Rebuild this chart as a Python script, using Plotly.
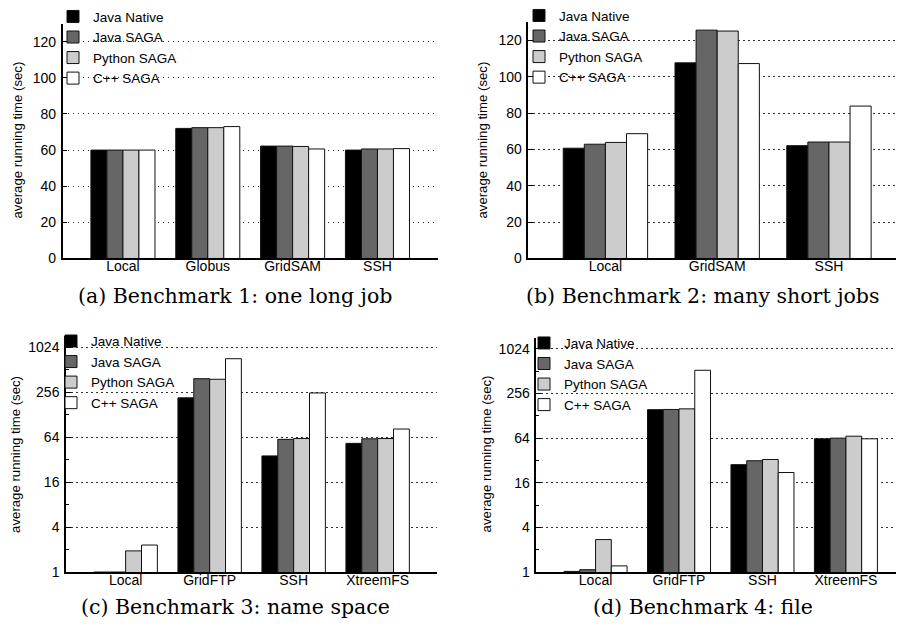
import plotly.graph_objects as go

# ---------------- data ----------------
series_names = ["Java Native", "Java SAGA", "Python SAGA", "C++ SAGA"]
series_colors = ["#000000", "#666666", "#cccccc", "#ffffff"]

cats_a = ["Local", "Globus", "GridSAM", "SSH"]
a_java_native = [60.0, 72.0, 62.2, 60.0]
a_java_saga = [60.0, 72.4, 62.2, 60.6]
a_python_saga = [60.0, 72.4, 62.0, 60.6]
a_cpp_saga = [60.0, 73.0, 60.6, 60.8]

cats_b = ["Local", "GridSAM", "SSH"]
b_java_native = [60.7, 107.7, 62.1]
b_java_saga = [62.9, 125.7, 64.1]
b_python_saga = [63.9, 125.2, 64.1]
b_cpp_saga = [68.7, 107.3, 83.9]

cats_c = ["Local", "GridFTP", "SSH", "XtreemFS"]
c_java_native = [1.0, 216, 36, 53]
c_java_saga = [1.0, 390, 60, 61]
c_python_saga = [1.92, 383, 61.5, 61.5]
c_cpp_saga = [2.3, 722, 251, 82.5]

cats_d = ["Local", "GridFTP", "SSH", "XtreemFS"]
d_java_native = [1.02, 155, 28.1, 62.7]
d_java_saga = [1.075, 156, 31.7, 64]
d_python_saga = [2.74, 159, 33, 68]
d_cpp_saga = [1.21, 527, 22, 62.7]

lin_ticks = [0, 20, 40, 60, 80, 100, 120]
log_ticks = [1, 4, 16, 64, 256, 1024]
log_minor = [2, 8, 32, 128, 512]

captions = ["(a) Benchmark 1: one long job", "(b) Benchmark 2: many short jobs",
            "(c) Benchmark 3: name space", "(d) Benchmark 4: file"]
ytitle = "average running time (sec)"

# ---------------- layout geometry ----------------
W, H = 898, 631
def px(x):
    return x / W
def py(y):
    return 1 - y / H

panels = [
    dict(cats=cats_a, vals=[a_java_native, a_java_saga, a_python_saga, a_cpp_saga],
         xd=[px(62.7), px(437.7)], yd=[py(257), py(16)], xr=[-0.71, 3.71], log=False,
         leg=dict(x=px(53), y=py(-7)), cap=(234.7, 296), yt=(18, 136)),
    dict(cats=cats_b, vals=[b_java_native, b_java_saga, b_python_saga, b_cpp_saga],
         xd=[px(528.3), px(896)], yd=[py(257), py(14.7)], xr=[-0.69, 2.60], log=False,
         leg=dict(x=px(519), y=py(-8)), cap=(702.5, 295), yt=(483, 136)),
    dict(cats=cats_c, vals=[c_java_native, c_java_saga, c_python_saga, c_cpp_saga],
         xd=[px(66), px(437.3)], yd=[py(578.7), py(336.7)], xr=[-0.71, 3.71], log=True,
         leg=dict(x=px(51), y=py(326)), cap=(235, 615), yt=(15.5, 458)),
    dict(cats=cats_d, vals=[d_java_native, d_java_saga, d_python_saga, d_cpp_saga],
         xd=[px(536.3), px(896)], yd=[py(578.7), py(338.3)], xr=[-0.71, 3.60], log=True,
         leg=dict(x=px(524), y=py(328)), cap=(703, 615), yt=(486, 458)),
]

FONT = "Liberation Sans, Arial, sans-serif"
fig = go.Figure()
layout = dict(
    width=W, height=H, margin=dict(l=0, r=0, t=0, b=0),
    paper_bgcolor="white", plot_bgcolor="white",
    font=dict(family=FONT, size=14, color="black"),
    barmode="group", bargap=0.245, bargroupgap=0.0,
    annotations=[],
)

for i, p in enumerate(panels):
    n = "" if i == 0 else str(i + 1)
    xa, ya = "x" + n, "y" + n
    legname = "legend" + n
    for s in range(4):
        fig.add_trace(go.Bar(
            x=p["cats"], y=p["vals"][s], name=series_names[s],
            xaxis=xa, yaxis=ya, legend=legname,
            marker=dict(color=series_colors[s], line=dict(color="#111111", width=1)),
        ))
    common_y = dict(
        domain=p["yd"], anchor=xa, showline=True, linecolor="black", linewidth=1.5,
        ticks="inside", ticklen=5, tickcolor="black", tickwidth=1,
        showgrid=True, gridcolor="#333333", gridwidth=1, griddash="1.5px,3.5px",
        zeroline=False, tickfont=dict(size=14), ticklabelstandoff=2,
    )
    if p["log"]:
        common_y.update(type="log", range=[0, 3.161], tickvals=log_ticks,
                        ticktext=[str(v) for v in log_ticks],
                        minor=dict(tickvals=log_minor, ticks="inside", ticklen=3,
                                   tickcolor="black", showgrid=False))
    else:
        common_y.update(range=[0, 130], tickvals=lin_ticks)
    layout["yaxis" + n] = common_y
    layout["xaxis" + n] = dict(
        domain=p["xd"], anchor=ya, type="category", range=p["xr"],
        showline=True, linecolor="black", linewidth=2, ticks="", ticklen=0,
        showgrid=False, zeroline=False, tickfont=dict(size=14), ticklabelstandoff=-6,
    )
    layout[legname] = dict(
        x=p["leg"]["x"], y=p["leg"]["y"], xanchor="left", yanchor="top",
        bgcolor="rgba(255,255,255,0)", borderwidth=0, font=dict(size=13.5, family=FONT),
        tracegroupgap=0, itemwidth=30,
    )
    layout["annotations"].append(dict(
        text=captions[i], x=px(p["cap"][0]), y=py(p["cap"][1]), xref="paper", yref="paper",
        xanchor="center", yanchor="middle", showarrow=False,
        font=dict(family="DejaVu Serif, serif", size=20.5, color="black"),
    ))
    layout["annotations"].append(dict(
        text=ytitle, x=px(p["yt"][0]), y=py(p["yt"][1]), xref="paper", yref="paper",
        xanchor="center", yanchor="middle", showarrow=False, textangle=-90,
        font=dict(family=FONT, size=13.2, color="black"),
    ))

fig.update_layout(**layout)
fig.write_html("out.html", config={"displayModeBar": False},
               post_script="document.body.style.margin='0px';")
